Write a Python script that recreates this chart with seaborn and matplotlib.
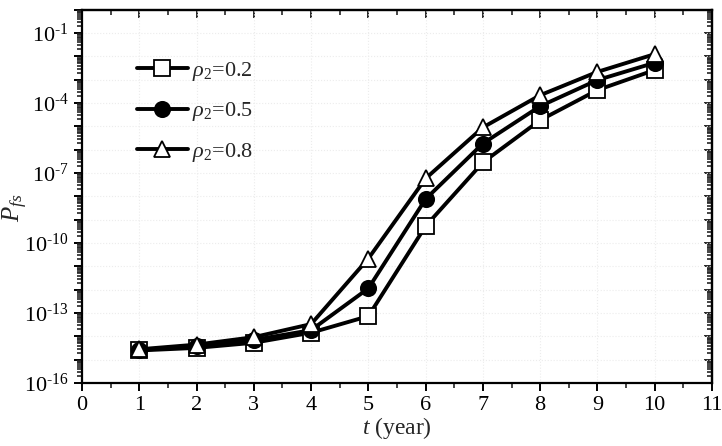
import numpy as np
import pandas as pd
import matplotlib
matplotlib.use("Agg")
import matplotlib.pyplot as plt
import matplotlib.ticker as mticker
import seaborn as sns

# data (log10 of P_fs)
years = [1, 2, 3, 4, 5, 6, 7, 8, 9, 10]
log_p_02 = [-14.60, -14.49, -14.27, -13.84, -13.13, -9.27, -6.54, -4.73, -3.44, -2.58]
log_p_05 = [-14.58, -14.42, -14.15, -13.73, -11.94, -8.11, -5.73, -4.13, -3.01, -2.27]
log_p_08 = [-14.55, -14.35, -14.03, -13.47, -10.66, -7.23, -5.04, -3.66, -2.66, -1.90]
series_names = [r"$\rho_2$=0.2", r"$\rho_2$=0.5", r"$\rho_2$=0.8"]

sns.set_style("ticks")
plt.rcParams['font.family'] = ['Liberation Serif', 'DejaVu Serif']
plt.rcParams['mathtext.fontset'] = 'custom'
plt.rcParams['mathtext.rm'] = 'Liberation Serif'
plt.rcParams['mathtext.it'] = 'Liberation Serif:italic'

df = pd.DataFrame({
    't': years * 3,
    'P': 10.0 ** np.array(log_p_02 + log_p_05 + log_p_08),
    'series': np.repeat(series_names, len(years)),
})

fig = plt.figure(figsize=(7.22, 4.46), dpi=100)
ax = fig.add_axes([0.1136, 0.141, 0.8725, 0.837])

styles = {
    series_names[0]: dict(marker='s', markerfacecolor='white'),
    series_names[1]: dict(marker='o', markerfacecolor='black'),
    series_names[2]: dict(marker='^', markerfacecolor='white'),
}
for name in series_names:
    sub = df[df['series'] == name]
    sns.lineplot(data=sub, x='t', y='P', ax=ax, color='black', linewidth=2.8,
                 markersize=11, markeredgecolor='black', markeredgewidth=1.3,
                 label=name, **styles[name])

ax.set_yscale('log')
ax.set_xlim(0, 11)
ax.set_ylim(1e-16, 1)

ax.xaxis.set_major_locator(mticker.MultipleLocator(1))
ax.xaxis.set_minor_locator(mticker.MultipleLocator(0.5))
ax.yaxis.set_major_locator(mticker.FixedLocator(10.0 ** np.arange(-16, 1)))
ax.yaxis.set_minor_locator(mticker.LogLocator(base=10, subs=np.arange(2, 10), numticks=40))


def ylab(v, pos):
    e = int(round(np.log10(v)))
    if e in (-16, -13, -10, -7, -4, -1):
        return r"$10^{\text{-}%d}$" % abs(e)
    return ""


ax.yaxis.set_major_formatter(mticker.FuncFormatter(ylab))
ax.yaxis.set_minor_formatter(mticker.NullFormatter())

ax.grid(True, which='major', color='#ececec', linestyle=':', linewidth=0.8)

for side in ['top', 'right', 'bottom', 'left']:
    ax.spines[side].set_visible(True)
    ax.spines[side].set_linewidth(1.6)
    ax.spines[side].set_color('black')

ax.tick_params(axis='both', which='major', direction='out', length=6, width=1.4,
               labelsize=16, colors='black')
ax.tick_params(axis='both', which='minor', direction='out', length=3.5, width=1.2)

# mirrored ticks on top and right, pointing inward
top = ax.secondary_xaxis('top')
top.xaxis.set_major_locator(mticker.MultipleLocator(1))
top.xaxis.set_minor_locator(mticker.MultipleLocator(0.5))
top.tick_params(which='major', direction='in', length=6, width=1.4, labeltop=False)
top.tick_params(which='minor', direction='in', length=3.5, width=1.2)
top.spines['top'].set_linewidth(1.6)
right = ax.secondary_yaxis('right')
right.yaxis.set_major_locator(mticker.FixedLocator(10.0 ** np.arange(-16, 1)))
right.yaxis.set_minor_locator(mticker.LogLocator(base=10, subs=np.arange(2, 10), numticks=40))
right.tick_params(which='major', direction='in', length=6, width=1.4, labelright=False)
right.tick_params(which='minor', direction='in', length=3.5, width=1.2)
right.spines['right'].set_linewidth(1.6)

ax.set_xlabel(r"$\mathit{t}$ (year)", fontsize=17, labelpad=0)
ax.set_ylabel(r"$P_{fs}$", fontsize=18, va='center')
ax.yaxis.set_label_coords(-0.106, 0.47)

leg = ax.legend(loc='upper left', bbox_to_anchor=(0.055, 0.92), frameon=False,
                fontsize=16, handlelength=2.3, handletextpad=0.2, labelspacing=0.8)

fig.savefig('out.png', dpi=100)
